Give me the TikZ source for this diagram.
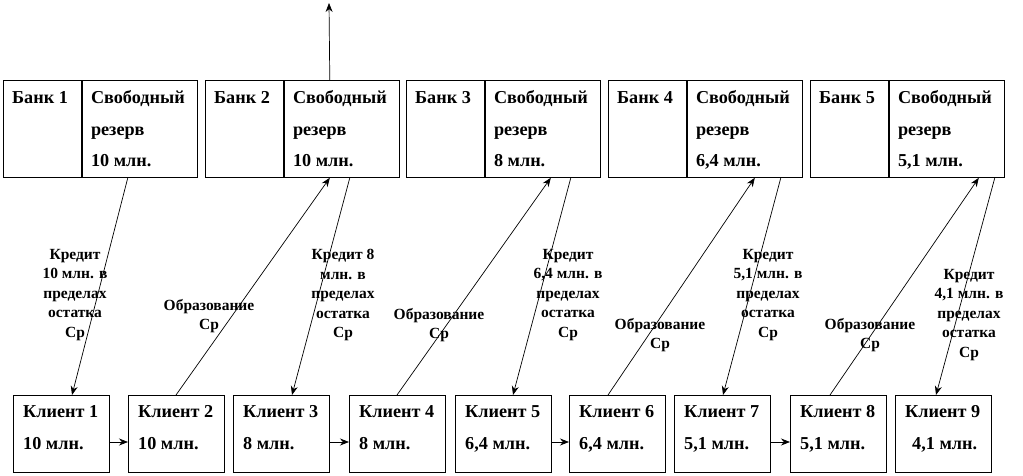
\documentclass[tikz,border=0pt]{standalone}
\usepackage{fontspec}
\setmainfont{Liberation Serif}[BoldFont={Liberation Serif Bold}]
\newfontfamily\tnr{Liberation Serif}[BoldFont={Liberation Serif Bold}]
\usetikzlibrary{arrows.meta,calc}
\begin{document}
\begin{tikzpicture}[x=1pt,y=-1pt,
  box/.style={draw, line width=0.8pt, inner sep=0pt, anchor=north west},
  txt/.style={anchor=base west, inner sep=0pt, font=\tnr\fontsize{18.2}{20}\selectfont\bfseries},
  lab/.style={align=center, inner sep=0pt, font=\tnr\fontsize{15.5}{19.5}\selectfont\bfseries},
  con/.style={line width=0.7pt, -{Stealth[length=9pt,width=7pt]}}
]
\useasboundingbox (0,0) rectangle (1023,476);
% banks
\foreach \i/\x/\v in {1/3/{10 млн.}, 2/205/{10 млн.}, 3/406/{8 млн.}, 4/608/{6,4 млн.}, 5/810/{5,1 млн.}}{
  \node[box, minimum width=78pt, minimum height=97pt] (bn\i) at (\x,80) {};
  \node[box, minimum width=115pt, minimum height=97pt] (b\i) at (bn\i.north east) {};
  \node[txt] (bt\i) at ($(bn\i.north west)+(9,24)$) {Банк \i};
  \node[txt] (ra\i) at ($(b\i.north west)+(9,24)$) {Свободный};
  \node[txt] (rb\i) at ($(b\i.north west)+(9,56)$) {резерв};
  \node[txt] (rc\i) at ($(b\i.north west)+(9,87)$) {\v};
}
% clients
\foreach \i/\x/\p/\v in {1/13/10/{10 млн.}, 2/128/10/{10 млн.}, 3/233/10/{8 млн.}, 4/349/10/{8 млн.}, 5/455/10/{6,4 млн.}, 6/569/10/{6,4 млн.}, 7/674/10/{5,1 млн.}, 8/790/10/{5,1 млн.}, 9/895/17/{4,1 млн.}}{
  \node[box, minimum width=96pt, minimum height=77pt] (c\i) at (\x,395) {};
  \node[txt] (ct\i) at ($(c\i.north west)+(10,22)$) {Клиент \i};
  \node[txt] (cv\i) at ($(c\i.north west)+(\p,54)$) {\v};
}
% top arrow
\coordinate (top) at (329,3);
\draw[con] ($(b2.north west)+(46,0)$) -- (top);
% diagonal connectors
\draw[con] ($(b1.south west)+(46,0)$) -- ($(c1.north west)+(59,0)$);
\draw[con] ($(c2.north west)+(48,0)$) -- ($(b2.south west)+(46,0)$);
\draw[con] ($(b2.south west)+(66,0)$) -- ($(c3.north west)+(59,0)$);
\draw[con] ($(c4.north west)+(48,0)$) -- ($(b3.south west)+(66,0)$);
\draw[con] ($(b3.south west)+(86,0)$) -- ($(c5.north west)+(58,0)$);
\draw[con] ($(c6.north west)+(39,0)$) -- ($(b4.south west)+(68,0)$);
\draw[con] ($(b4.south west)+(94,0)$) -- ($(c7.north west)+(49,0)$);
\draw[con] ($(c8.north west)+(40,0)$) -- ($(b5.south west)+(90,0)$);
\draw[con] ($(b5.south west)+(106,0)$) -- ($(c9.north west)+(41,0)$);
% horizontal connectors
\draw[con] ($(c1.north east)+(0,47)$) -- ($(c2.north west)+(0,47)$);
\draw[con] ($(c3.north east)+(0,47)$) -- ($(c4.north west)+(0,47)$);
\draw[con] ($(c5.north east)+(0,47)$) -- ($(c6.north west)+(0,47)$);
\draw[con] ($(c7.north east)+(0,47)$) -- ($(c8.north west)+(0,47)$);
% labels
\node[lab] (l1) at (75,295) {Кредит\\10 млн. в\\пределах\\остатка\\Ср};
\node[lab] (o1) at (209,316) {Образование\\Ср};
\node[lab] (l2) at (343,295) {Кредит 8\\млн. в\\пределах\\остатка\\Ср};
\node[lab] (o2) at (439,325) {Образование\\Ср};
\node[lab] (l3) at (568,295) {Кредит\\6,4 млн. в\\пределах\\остатка\\Ср};
\node[lab] (o3) at (660,335) {Образование\\Ср};
\node[lab] (l4) at (768,295) {Кредит\\5,1 млн. в\\пределах\\остатка\\Ср};
\node[lab] (o4) at (870,335) {Образование\\Ср};
\node[lab] (l5) at (969,315) {Кредит\\4,1 млн. в\\пределах\\остатка\\Ср};
\end{tikzpicture}
\end{document}
